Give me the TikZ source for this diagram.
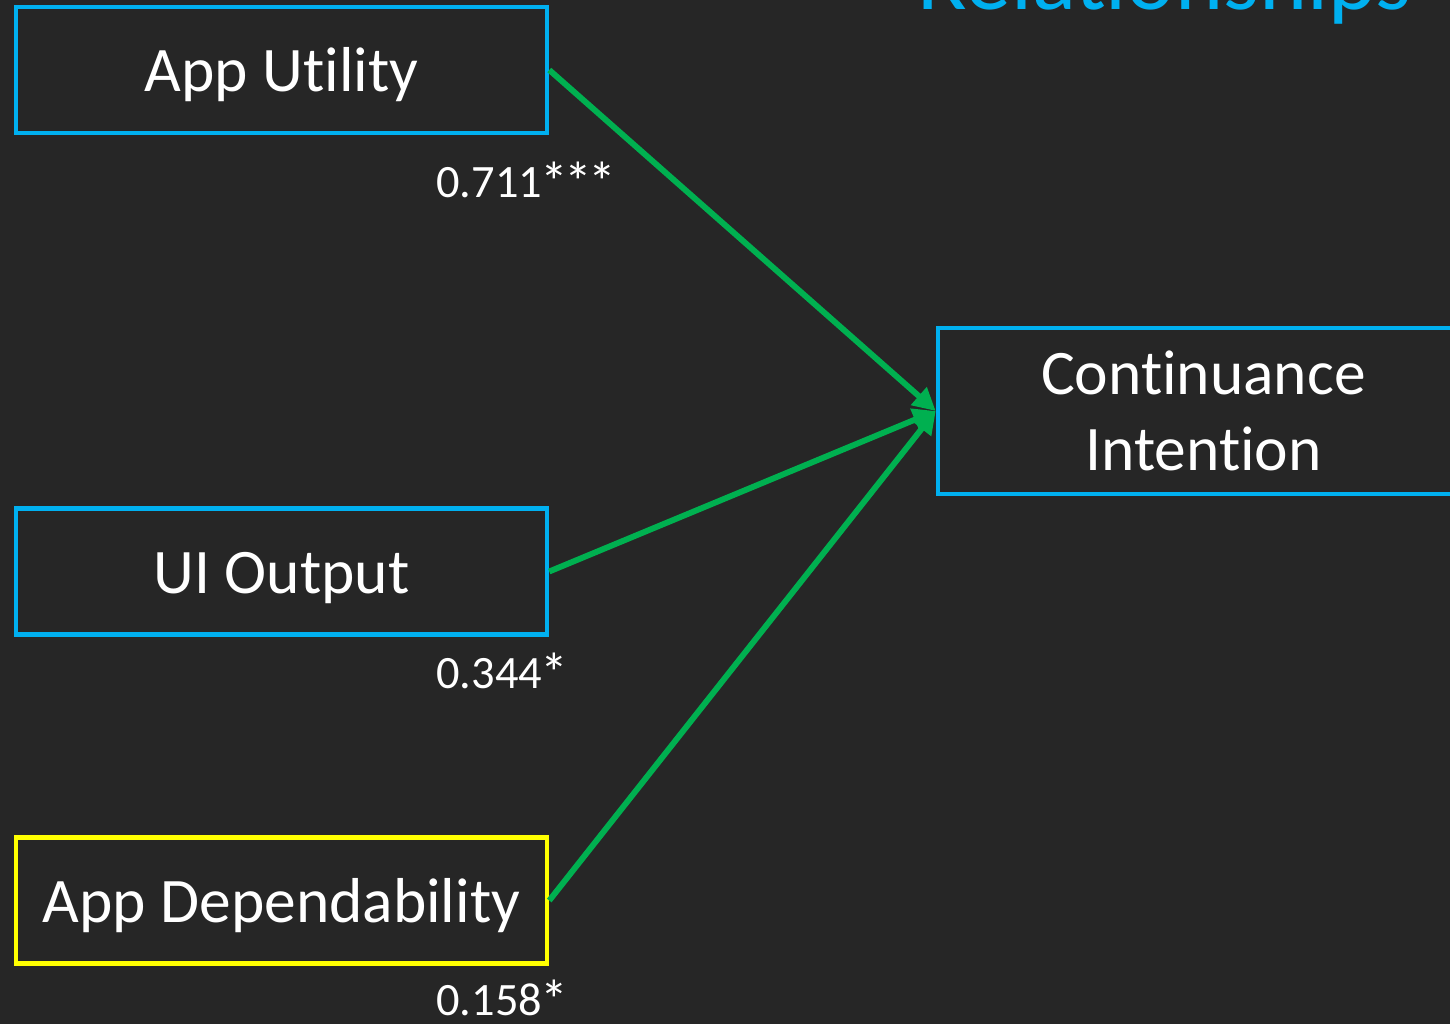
\documentclass[tikz,border=0pt]{standalone}
\usepackage{fontspec}
\setmainfont[RawFeature={-liga;-clig;-calt;-dlig}]{Carlito}
\usetikzlibrary{arrows.meta}
\definecolor{bg}{HTML}{262626}
\definecolor{boxblue}{HTML}{00B0F0}
\definecolor{boxyellow}{HTML}{FFFF00}
\definecolor{pathgreen}{HTML}{00B050}
\newcommand{\sigstar}{\kern-0.04em\raisebox{-0.1em}{\scalebox{1.2}{*}}\kern-0.04em}
\begin{document}
\begin{tikzpicture}[x=0.75pt,y=-0.75pt,
  construct/.style={draw=boxblue, line width=3.4pt, minimum width=398.25pt,
    minimum height=94.5pt, inner sep=0pt, text=white,
    font=\fontsize{47.6}{57}\selectfont},
  oneline/.style={construct, text height=33pt, text depth=0pt},
  coef/.style={anchor=base west, inner sep=0pt, text=white,
    font=\fontsize{34.8}{42}\selectfont},
  path/.style={draw=pathgreen, line width=4.4pt,
    -{Triangle[length=17pt,width=17pt]}},
]
\useasboundingbox (0,0) rectangle (1450,1024);
\clip (0,0) rectangle (1450,1024);
\fill[bg] (0,0) rectangle (1450,1024);

% heading, running off the top edge
\node[anchor=base east, inner sep=0pt, text=boxblue,
  font=\fontsize{68.7}{80}\selectfont] (title) at (1412,10) {Relationships};

% constructs
\node[oneline] (util) at (281.5,70) {App Utility};
\node[oneline] (ui) at (281.5,571.5) {UI Output};
\node[oneline, draw=boxyellow] (dep) at (281.5,900.5) {App Dependability};
\node[construct, minimum height=124.5pt, align=center] (cont) at (1203.5,411)
  {Continuance\\Intention};

% path coefficients
\node[coef] (cu) at (436,197) {0.711\sigstar\sigstar\sigstar};
\node[coef] (ci) at (436,688) {0.344\sigstar};
\node[coef] (cd) at (436,1015) {0.158\sigstar};

% structural paths
\draw[path] (util.east) -- (cont.west);
\draw[path] (ui.east) -- (cont.west);
\draw[path] (dep.east) -- (cont.west);
\end{tikzpicture}
\end{document}
